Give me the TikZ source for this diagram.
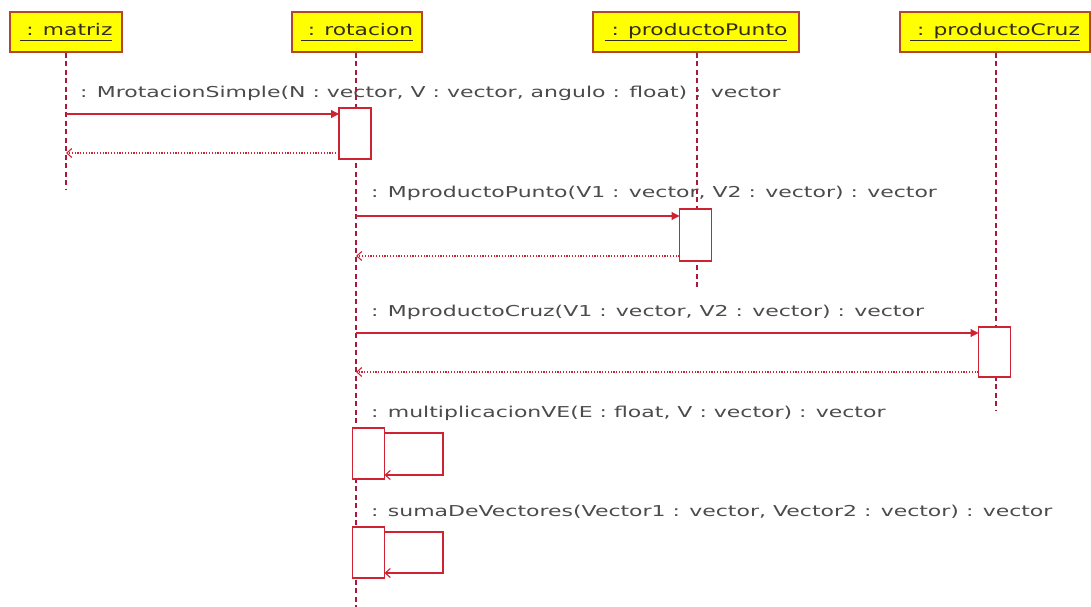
\documentclass[tikz,border=0pt]{standalone}
\usepackage{fontspec}
\setmainfont{DejaVu Sans}
\newfontfamily\msgfont[FakeStretch=1.465]{DejaVu Sans}
\newfontfamily\hdrfont[FakeStretch=1.36]{DejaVu Sans}
\usetikzlibrary{arrows.meta}

\definecolor{hdrFill}{RGB}{255,255,0}
\definecolor{hdrEdge}{RGB}{180,70,45}
\definecolor{lineC}{RGB}{205,35,50}
\definecolor{lifeC}{RGB}{170,25,60}
\definecolor{msgC}{RGB}{75,75,75}
\definecolor{hdrText}{RGB}{50,45,25}

% underline at a fixed depth below the baseline
\newcommand\hdrul[1]{\setbox0=\hbox{#1}\rlap{\rule[-5pt]{\wd0}{0.8pt}}\box0}

\tikzset{
  hdr/.style={draw=hdrEdge, fill=hdrFill, line width=1.2pt, inner sep=0pt,
    minimum height=40pt, text=hdrText, font=\hdrfont\fontsize{16}{19}\selectfont},
  life/.style={draw=lifeC, line width=1.3pt, dash pattern=on 5pt off 3.5pt},
  act/.style={draw=lineC, fill=white, line width=1.1pt, inner sep=0pt,
    outer sep=0pt, minimum width=32pt},
  call/.style={draw=lineC, line width=1.1pt, -{Triangle[length=8pt,width=8pt]}},
  ret/.style={draw=lineC, line width=1.1pt, dash pattern=on 1.2pt off 1.6pt,
    -{Straight Barb[length=5pt,width=9pt]}},
  selfmsg/.style={draw=lineC, line width=1.1pt, -{Straight Barb[length=5pt,width=9pt]}},
  msg/.style={anchor=base west, inner sep=0pt, text=msgC,
    font=\msgfont\fontsize{15}{18}\selectfont},
}

\begin{document}
\begin{tikzpicture}[x=1pt, y=-1pt]
\useasboundingbox (0,0) rectangle (1091,607);

% participants
\node[hdr, minimum width=112pt] (matriz) at (66,32) {\hdrul{\ : matriz}};
\node[hdr, minimum width=130pt] (rot) at (357,32) {\hdrul{\ : rotacion}};
\node[hdr, minimum width=206pt] (punto) at (696,32) {\hdrul{\ : productoPunto}};
\node[hdr, minimum width=190pt] (cruz) at (995,32) {\hdrul{\ : productoCruz}};

% message labels
\node[msg] (t1) at (80,97.5) {: MrotacionSimple(N : vector, V : vector, angulo : float) : vector};
\node[msg] (t2) at (371,197) {: MproductoPunto(V1 : vector, V2 : vector) : vector};
\node[msg] (t3) at (371,316) {: MproductoCruz(V1 : vector, V2 : vector) : vector};
\node[msg] (t4) at (371,417) {: multiplicacionVE(E : float, V : vector) : vector};
\node[msg] (t5) at (371,516) {: sumaDeVectores(Vector1 : vector, Vector2 : vector) : vector};

% lifeline ends
\coordinate (mEnd) at (66,190);
\coordinate (rEnd) at (356,607);
\coordinate (pEnd) at (697,290);
\coordinate (cEnd) at (996,410);

\draw[life] (matriz.south) -- (mEnd);
\draw[life] (rot.south -| rEnd) -- (rEnd);
\draw[life] (punto.south -| pEnd) -- (pEnd);
\draw[life] (cruz.south -| cEnd) -- (cEnd);

% activations
\node[act, minimum height=51pt] (a1) at (355,133.5) {};
\node[act, minimum height=52pt] (a2) at (695.5,235) {};
\node[act, minimum height=50pt] (a3) at (994.5,352) {};
\node[act, minimum height=51pt] (a4) at (368.5,453.5) {};
\node[act, minimum height=51pt] (a5) at (368.5,552.5) {};

% message heights
\coordinate (y1) at (0,114);
\coordinate (y1r) at (0,153);
\coordinate (y2) at (0,216);
\coordinate (y2r) at (0,256);
\coordinate (y3) at (0,333);
\coordinate (y3r) at (0,372);

% calls and replies
\draw[call] (matriz |- y1) -- (a1.west |- y1);
\draw[ret] (a1.west |- y1r) -- (matriz |- y1r);
\draw[call] (rEnd |- y2) -- (a2.west |- y2);
\draw[ret] (a2.west |- y2r) -- (rEnd |- y2r);
\draw[call] (rEnd |- y3) -- (a3.west |- y3);
\draw[ret] (a3.west |- y3r) -- (rEnd |- y3r);

% self calls
\coordinate (k4) at (443,433);
\coordinate (k4b) at (443,475);
\coordinate (k5) at (443,532);
\coordinate (k5b) at (443,573);
\draw[selfmsg] (a4.east |- k4) -- (k4) -- (k4b) -- (a4.east |- k4b);
\draw[selfmsg] (a5.east |- k5) -- (k5) -- (k5b) -- (a5.east |- k5b);
\end{tikzpicture}
\end{document}
